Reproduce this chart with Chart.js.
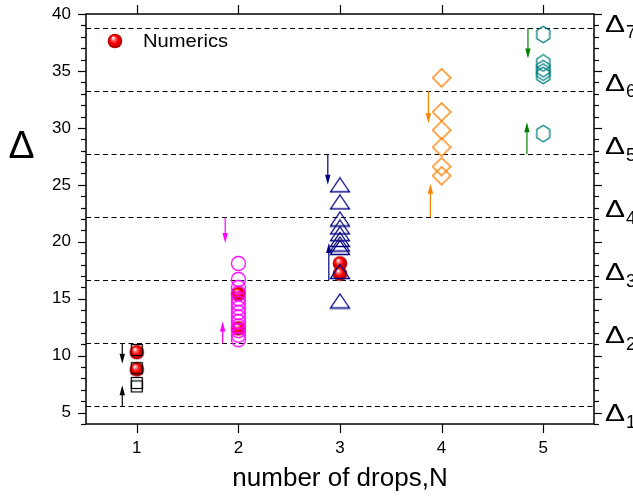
<!DOCTYPE html>
<html>
<head>
<meta charset="utf-8">
<script src="https://cdn.jsdelivr.net/npm/chart.js@4.4.1/dist/chart.umd.min.js"></script>
<style>
html,body{margin:0;padding:0;background:#fff;}
#wrap{width:633px;height:497px;}
</style>
</head>
<body>
<div id="wrap"><canvas id="c" width="633" height="497"></canvas></div>
<script>
// ---------------- data ----------------
const categories = [1, 2, 3, 4, 5];
const xTickLabels = ['1', '2', '3', '4', '5'];
const yTickValues = [5, 10, 15, 20, 25, 30, 35, 40];
const deltaLevels = [5.54, 11.08, 16.62, 22.16, 27.70, 33.24, 38.78];
const deltaSubscripts = ['1', '2', '3', '4', '5', '6', '7'];
// where each Δn label sits on the right axis (axis units)
const deltaLabelAt = [4.26, 11.08, 16.62, 22.16, 27.70, 33.24, 38.45];
const legendLabel = 'Numerics';

const squaresN1 = [10.5, 8.9, 7.6, 7.3];
const circlesN2 = [18.1, 16.7, 16.0, 15.5, 15.0, 14.6, 14.2, 13.8, 13.4, 13.0, 12.6, 12.2, 11.8, 11.4];
const trianglesN3 = [25.0, 23.5, 22.0, 21.3, 20.7, 20.2, 19.8, 19.5, 17.4, 14.8];
const diamondsN4 = [34.4, 31.4, 29.8, 28.3, 26.6, 25.8];
const hexagonsN5 = [38.2, 35.7, 35.2, 34.9, 34.6, 29.5];

const numericsN = [1, 1, 2, 2, 3, 3];
const numericsDelta = [10.3, 8.8, 15.4, 12.4, 18.1, 17.2];

// arrows: x position (in N units), start value, tip value
const arrowX    = [0.857, 0.857, 1.87, 1.845, 2.88, 2.89, 3.87, 3.89, 4.85, 4.84];
const arrowFrom = [11.08, 5.54, 22.16, 11.08, 27.70, 16.62, 33.24, 22.16, 38.78, 27.70];
const arrowTo   = [9.3, 7.4, 19.9, 13.0, 25.0, 19.9, 30.4, 25.1, 36.1, 30.5];
const arrowColors = ['#000000', '#000000', '#ff00ff', '#ff00ff', '#000080', '#000080', '#ff8000', '#ff8000', '#008000', '#008000'];

// ---------------- marker images ----------------
function makeCanvas(w, h, draw) {
  const c = document.createElement('canvas');
  c.width = w; c.height = h;
  const g = c.getContext('2d');
  draw(g, w, h);
  return c;
}
const squareImg = makeCanvas(14, 14, (g) => {
  g.strokeStyle = '#000'; g.lineWidth = 1.2;
  g.strokeRect(1.5, 1.5, 11, 11);
});
const circleImg = makeCanvas(17, 17, (g) => {
  g.strokeStyle = '#ff00ff'; g.lineWidth = 1.3;
  g.beginPath(); g.arc(8.5, 8.5, 7, 0, Math.PI * 2); g.stroke();
});
const triangleImg = makeCanvas(22, 17, (g) => {
  g.strokeStyle = '#000080'; g.lineWidth = 1.3;
  g.beginPath(); g.moveTo(11, 1.5); g.lineTo(20.5, 15.5); g.lineTo(1.5, 15.5); g.closePath(); g.stroke();
});
const diamondImg = makeCanvas(20, 20, (g) => {
  g.strokeStyle = '#ff8000'; g.lineWidth = 1.4;
  g.beginPath(); g.moveTo(10, 1); g.lineTo(19, 10); g.lineTo(10, 19); g.lineTo(1, 10); g.closePath(); g.stroke();
});
const hexagonImg = makeCanvas(17, 19, (g) => {
  g.strokeStyle = '#008080'; g.lineWidth = 1.3;
  g.beginPath();
  for (let k = 0; k < 6; k++) {
    const a = Math.PI / 2 + k * Math.PI / 3;
    const px = 8.5 + 7.5 * Math.cos(a), py = 9.5 + 8.2 * Math.sin(a);
    if (k === 0) g.moveTo(px, py); else g.lineTo(px, py);
  }
  g.closePath(); g.stroke();
});
const ballImg = makeCanvas(16, 16, (g) => {
  const gr = g.createRadialGradient(6, 5, 0.5, 8, 8, 7.5);
  gr.addColorStop(0, '#ffffff');
  gr.addColorStop(0.2, '#ff7070');
  gr.addColorStop(0.5, '#ff0000');
  gr.addColorStop(1, '#a00000');
  g.fillStyle = gr;
  g.beginPath(); g.arc(8, 8, 7.3, 0, Math.PI * 2); g.fill();
});

// ---------------- plugin: frame, ticks, dashed levels, arrows, labels ----------------
const decorPlugin = {
  id: 'decor',
  beforeDatasetsDraw(chart) {
    const {ctx, chartArea: a, scales: {x, y}} = chart;
    ctx.save();
    // dashed Δ levels
    ctx.strokeStyle = '#000'; ctx.lineWidth = 1; ctx.setLineDash([5, 3.5]);
    deltaLevels.forEach(v => {
      const py = Math.round(y.getPixelForValue(v)) + 0.5;
      ctx.beginPath(); ctx.moveTo(a.left, py); ctx.lineTo(a.right, py); ctx.stroke();
    });
    ctx.setLineDash([]);
    // arrows
    arrowX.forEach((ax, i) => {
      const px = x.getPixelForValue(ax);
      const y0 = y.getPixelForValue(arrowFrom[i]);
      const y1 = y.getPixelForValue(arrowTo[i]);
      const dir = y1 > y0 ? 1 : -1;
      ctx.strokeStyle = arrowColors[i]; ctx.fillStyle = arrowColors[i]; ctx.lineWidth = 1.2;
      ctx.beginPath(); ctx.moveTo(px, y0); ctx.lineTo(px, y1 - dir * 8); ctx.stroke();
      ctx.beginPath(); ctx.moveTo(px, y1); ctx.lineTo(px - 2.7, y1 - dir * 10); ctx.lineTo(px + 2.7, y1 - dir * 10); ctx.closePath(); ctx.fill();
    });
    // legend entry (inside plot, top-left)
    ctx.drawImage(ballImg, a.left + 29 - 8, a.top + 27 - 8);
    ctx.fillStyle = '#000';
    ctx.font = '18px "Liberation Sans", Arial, sans-serif';
    ctx.textAlign = 'left'; ctx.textBaseline = 'alphabetic';
    ctx.save();
    ctx.translate(a.left + 57, a.top + 33);
    ctx.scale(1.12, 1);
    ctx.fillText(legendLabel, 0, 0);
    ctx.restore();
    ctx.restore();
  },
  afterDraw(chart) {
    const {ctx, chartArea: a, scales: {x, y}} = chart;
    ctx.save();
    ctx.strokeStyle = '#000'; ctx.lineWidth = 1.5;
    ctx.strokeRect(a.left, a.top, a.right - a.left, a.bottom - a.top);
    ctx.lineWidth = 1.2;
    // x ticks top & bottom
    categories.forEach(v => {
      const px = Math.round(x.getPixelForValue(v)) + 0.5;
      ctx.beginPath(); ctx.moveTo(px, a.bottom); ctx.lineTo(px, a.bottom + 9); ctx.stroke();
      ctx.beginPath(); ctx.moveTo(px, a.top); ctx.lineTo(px, a.top - 9); ctx.stroke();
    });
    // y ticks left & right (major every 5, minor every 1)
    for (let v = Math.ceil(y.min); v <= y.max; v++) {
      const py = Math.round(y.getPixelForValue(v)) + 0.5;
      const len = (v % 5 === 0) ? 8 : 5;
      ctx.beginPath(); ctx.moveTo(a.left, py); ctx.lineTo(a.left - len, py); ctx.stroke();
      ctx.beginPath(); ctx.moveTo(a.right, py); ctx.lineTo(a.right + len, py); ctx.stroke();
    }
    // left axis title Δ
    ctx.fillStyle = '#000';
    ctx.textAlign = 'center'; ctx.textBaseline = 'alphabetic';
    ctx.font = '39px "Liberation Sans", Arial, sans-serif';
    ctx.fillText('Δ', 21.5, a.top + 144);
    // right Δn labels
    deltaLabelAt.forEach((v, i) => {
      const py = y.getPixelForValue(v);
      ctx.save();
      ctx.translate(a.right + 11, py);
      ctx.scale(1.25, 1);
      ctx.textAlign = 'left';
      ctx.font = '24px "Liberation Sans", Arial, sans-serif';
      ctx.fillText('Δ', 0, 0);
      ctx.restore();
      ctx.font = '18px "Liberation Sans", Arial, sans-serif';
      ctx.textAlign = 'left';
      ctx.fillText(deltaSubscripts[i], a.right + 32, py + 6.5);
    });
    ctx.restore();
  }
};

const pts = (xv, arr) => arr.map(v => ({x: xv, y: v}));

Chart.defaults.font.family = '"Liberation Sans", Arial, sans-serif';
Chart.defaults.color = '#000';

new Chart(document.getElementById('c'), {
  type: 'scatter',
  data: {
    datasets: [
      {label: 'N=1', data: pts(categories[0], squaresN1), pointStyle: squareImg},
      {label: 'N=2', data: pts(categories[1], circlesN2), pointStyle: circleImg},
      {label: 'N=3', data: pts(categories[2], trianglesN3), pointStyle: triangleImg},
      {label: 'N=4', data: pts(categories[3], diamondsN4), pointStyle: diamondImg},
      {label: 'N=5', data: pts(categories[4], hexagonsN5), pointStyle: hexagonImg},
      {label: legendLabel, data: numericsN.map((n, i) => ({x: n, y: numericsDelta[i]})), pointStyle: ballImg}
    ]
  },
  options: {
    responsive: false,
    animation: false,
    events: [],
    layout: {padding: {top: 14, right: 39, left: 0, bottom: 0}},
    scales: {
      x: {
        type: 'linear', min: 0.5, max: 5.5,
        afterBuildTicks: s => { s.ticks = categories.map(v => ({value: v})); },
        afterFit: s => { s.height = 73; s.paddingLeft = 0; s.paddingRight = 0; },
        grid: {display: false, drawTicks: false},
        border: {display: false},
        ticks: {padding: 14, font: {size: 17}, callback: (v) => xTickLabels[categories.indexOf(v)] ?? ''},
        title: {display: true, text: 'number of drops,N', font: {size: 26}, padding: {top: 0, bottom: 3}}
      },
      y: {
        type: 'linear', min: 4, max: 40,
        afterBuildTicks: s => { s.ticks = yTickValues.map(v => ({value: v})); },
        afterFit: s => { s.width = 86; s.paddingTop = 0; s.paddingBottom = 0; },
        grid: {display: false, drawTicks: false},
        border: {display: false},
        ticks: {padding: 15, font: {size: 17}}
      }
    },
    plugins: {
      legend: {display: false},
      tooltip: {enabled: false}
    }
  },
  plugins: [decorPlugin]
});
</script>
</body>
</html>
